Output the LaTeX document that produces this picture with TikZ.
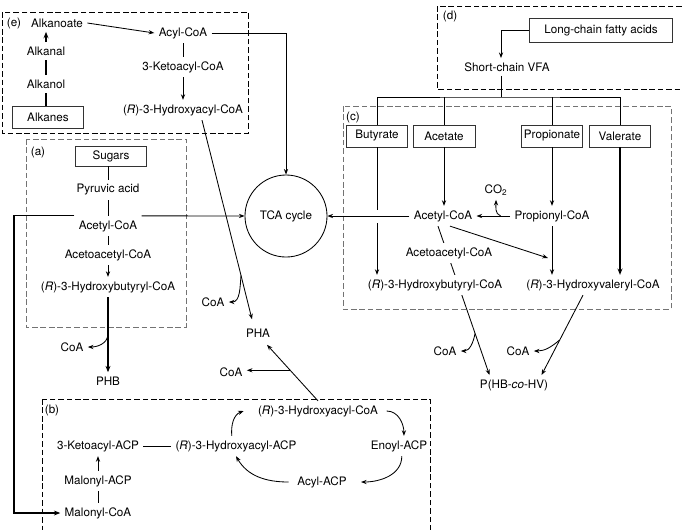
\documentclass[tikz,border=0pt]{standalone}
\usepackage{fontspec}
\setmainfont{TeX Gyre Heros}
\usetikzlibrary{positioning,calc,arrows.meta,backgrounds}

\begin{document}
\begin{tikzpicture}[
    x=0.025cm, y=-0.025cm,
    lbl/.style={inner sep=3pt, font=\fontsize{8.3}{10}\selectfont},
    srcbox/.style={draw=black!80, line width=0.6pt, inner sep=1.5pt, minimum height=0.55cm, font=\fontsize{8.3}{10}\selectfont},
    region/.style={draw, dash pattern=on 4pt off 2pt, line width=0.7pt},
    subregion/.style={draw=black!55, dash pattern=on 4pt off 2pt, line width=0.6pt},
    conn/.style={line width=0.6pt},
    hconn/.style={line width=0.85pt},
    arr/.style={-{Stealth[length=4pt,width=3pt]}, line width=0.6pt},
    harr/.style={-{Stealth[length=4.5pt,width=3.5pt]}, line width=0.85pt},
  ]

  \useasboundingbox (0,0) rectangle (682,529);
  \clip (0,0) rectangle (682,529);

  \node[draw, circle, line width=0.6pt, minimum size=2.05cm, inner sep=0pt, font=\fontsize{8.3}{10}\selectfont] (tca) at (286,216) {TCA cycle};

  % (e) alkanes
  \draw[region] (2,12) rectangle (248,133);
  \node[lbl] (elab) at (14,23) {(e)};
  \node[lbl] (alkanoate) at (57,23) {Alkanoate};
  \node[lbl] (alkanal) at (46,51) {Alkanal};
  \node[lbl] (alkanol) at (46,84) {Alkanol};
  \node[srcbox, minimum width=1.78cm] (alkanes) at (48,117) {Alkanes};
  \node[lbl] (acyl) at (183,33) {Acyl-CoA};
  \node[lbl] (ketoacyl) at (183,67) {3-Ketoacyl-CoA};
  \node[lbl] (hacyl) at (183,110) {(\textit{R})-3-Hydroxyacyl-CoA};

  \draw[hconn] (alkanes.north -| alkanal) -- (alkanol.south);
  \draw[hconn] (alkanol.north) -- (alkanal.south);
  \draw[harr] (alkanal.north) -- (alkanal.north |- alkanoate.south);
  \draw[arr] (alkanoate.east) -- (acyl.west);
  \draw[conn] (acyl) -- (ketoacyl);
  \draw[arr] (ketoacyl) -- (hacyl);
  \draw[arr] (acyl.east) -| (tca);

  % (a) sugars
  \draw[subregion] (26,139) rectangle (186,327);
  \node[lbl] (alab) at (38,152) {(a)};
  \node[srcbox, minimum width=1.78cm, minimum height=0.5cm] (sugars) at (111,156) {Sugars};
  \node[lbl] (pyr) at (108,190) {Pyruvic acid};
  \node[lbl] (acoa) at (108,226) {Acetyl-CoA};
  \node[lbl] (acac) at (108,255) {Acetoacetyl-CoA};
  \node[lbl] (hbcoa) at (108,287) {(\textit{R})-3-Hydroxybutyryl-CoA};
  \node[lbl] (phb) at (108,381) {PHB};
  \node[lbl] (coa1) at (72,347) {CoA};

  \draw[conn] (sugars.south -| pyr) -- (pyr);
  \draw[conn] (pyr) -- (acoa);
  \draw[conn] (acoa) -- (acac);
  \draw[arr] (acac) -- (hbcoa);
  \draw[arr] (acoa.north east) -- (tca);
  \draw[harr] (hbcoa) -- coordinate[pos=0.5] (br1) (phb);
  \draw[arr] (br1) to[out=-95,in=0] (coa1);

  % (d) fatty acids
  \draw[region] (437,6) rectangle (700,89);
  \node[lbl] (dlab) at (450,16) {(d)};
  \node[srcbox, minimum width=3.58cm, minimum height=0.6cm] (lcfa) at (601,30) {Long-chain fatty acids};
  \node[lbl] (vfa) at (507,67) {Short-chain VFA};
  \coordinate (split) at (501,97);
  \draw[arr] (lcfa.west) -| (split |- vfa.north);
  \draw[conn] (split |- vfa.south) -- (split);

  % (c) VFA
  \draw[subregion] (343,106) rectangle (671,309);
  \node[lbl] (clab) at (353,117) {(c)};
  \node[srcbox, minimum width=1.53cm] (butyrate) at (377,136) {Butyrate};
  \node[srcbox, minimum width=1.55cm] (acetate) at (444,136) {Acetate};
  \node[srcbox, minimum width=1.48cm] (propionate) at (552,136) {Propionate};
  \node[srcbox, minimum width=1.53cm] (valerate) at (620,136) {Valerate};
  \draw[conn] (butyrate.north) |- (split) -| (valerate.north);
  \draw[conn] (acetate.north) -- (acetate.north |- split);
  \draw[conn] (propionate.north) -- (propionate.north |- split);

  \node[lbl] (acoc) at (443,216) {Acetyl-CoA};
  \node[lbl] (propc) at (552,216) {Propionyl-CoA};
  \node[lbl] (co2) at (496,190) {CO\textsubscript{2}};
  \node[lbl, fill=white] (acacc) at (449,253) {Acetoacetyl-CoA};
  \node[lbl, fill=white] (hbc) at (435,285) {(\textit{R})-3-Hydroxybutyryl-CoA};
  \node[lbl] (hvc) at (593,285) {(\textit{R})-3-Hydroxyvaleryl-CoA};
  \node[lbl] (phbv) at (514,385) {P(HB-\textit{co}-HV)};
  \node[lbl] (coa3) at (445,351) {CoA};
  \node[lbl] (coa4) at (518,351) {CoA};

  \draw[arr] (acetate) -- (acetate |- acoc.north);
  \draw[arr] (propionate) -- (propc);
  \draw[arr] (propc) -- coordinate[pos=0.28] (br2) (acoc);
  \draw[arr] (br2) to[out=160,in=-90] (co2);
  \draw[arr] (propc) -- (propc |- hvc.north);
  \draw[harr] (valerate) -- (valerate |- hvc.north);
  \draw[conn] (butyrate) -- ($(butyrate |- acoc.west)+(0,-6)$);
  \draw[arr] ($(butyrate |- acoc.west)+(0,7)$) -- (butyrate |- hbc.north);
  \draw[arr] (acoc.west) -- (tca);
  \coordinate (hvin) at (548,258);
  \draw[arr] ($(acoc.south)+(7,0)$) -- (hvin);

  \coordinate (hbs) at ($(acoc.south)+(-5,0)$);
  \coordinate (hbe) at ($(phbv.north west)+(14,0)$);
  \begin{scope}[on background layer]
    \draw[arr] (hbs) -- coordinate[pos=0.72] (br3) (hbe);
  \end{scope}
  \draw[arr] (br3) to[out=-100,in=0] (coa3);
  \draw[arr] ($(hvc.south)+(-10,0)$) -- coordinate[pos=0.56] (br4) ($(phbv.north east)+(-11,0)$);
  \draw[arr] (br4) to[out=-140,in=0] (coa4);

  % PHA
  \node[lbl] (pha) at (258,333) {PHA};
  \node[lbl] (coa2) at (213,302) {CoA};
  \node[lbl] (coa5) at (231,372) {CoA};
  \draw[arr] ($(hacyl.south)+(19,0)$) -- coordinate[pos=0.78] (br5) ($(pha.north)+(-6,-5)$);
  \draw[arr] (br5) to[out=-95,in=0] (coa2);

  % (b) fatty acid synthesis
  \draw[region] (42,399) rectangle (430,545);
  \node[lbl] (blab) at (52,410) {(b)};
  \node[lbl] (hacylb) at (318,411) {(\textit{R})-3-Hydroxyacyl-CoA};
  \node[lbl] (ketoacp) at (98,446) {3-Ketoacyl-ACP};
  \node[lbl] (hacp) at (236,446) {(\textit{R})-3-Hydroxyacyl-ACP};
  \node[lbl] (enoyl) at (399,446) {Enoyl-ACP};
  \node[lbl] (acylacp) at (322,482) {Acyl-ACP};
  \node[lbl] (malacp) at (98,481) {Malonyl-ACP};
  \node[lbl] (malcoa) at (98,513) {Malonyl-CoA};

  \draw[harr] (acoa.north west) -- (acoa.north west -| 14,0) |- (malcoa);
  \draw[arr] (hacylb.north) -- coordinate[pos=0.545] (br6) ($(pha.south)+(9,3)$);
  \draw[arr] (br6) -- (coa5.east |- br6);
  \draw[conn] (ketoacp) -- (hacp);
  \draw[conn] (malcoa) -- (malacp);
  \draw[arr] (malacp) -- (ketoacp);
  \draw[arr] ([xshift=-3pt]hacp.north) to[out=95,in=200] ([xshift=-7pt]hacylb.west);
  \draw[arr] ([xshift=3pt]hacylb.east) to[out=0,in=90] ([xshift=3.5pt]enoyl.north);
  \draw[arr] ([xshift=2pt]enoyl.south) to[out=-90,in=0] ([xshift=7pt]acylacp.east);
  \draw[arr] ([xshift=-3pt]acylacp.west) to[out=180,in=-60] (hacp.south);

\end{tikzpicture}
\end{document}
